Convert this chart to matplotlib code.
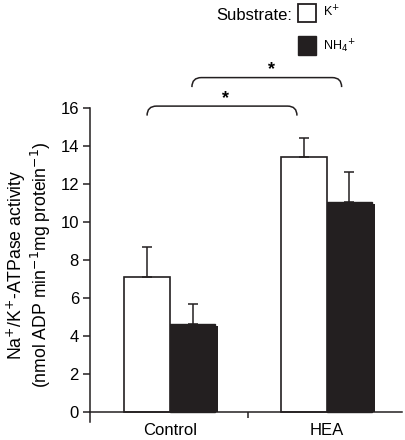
import matplotlib.pyplot as plt
from matplotlib.path import Path
from matplotlib.patches import PathPatch, Rectangle

plt.rcParams['font.family'] = ['Liberation Sans', 'DejaVu Sans']

groups = ["Control", "HEA"]
k_mean = [7.1, 13.4]
k_err = [1.6, 1.0]
nh4_mean = [4.65, 11.05]
nh4_err = [1.05, 1.6]

DARK = "#231f20"
W = 0.29


def bracket(ax, x1, x2, y_top, y_low, r=0.06):
    # rounded bracket drawn in data coords
    verts = [(x1, y_low), (x1, y_top), (x1 + r, y_top),
             (x2 - r, y_top), (x2, y_top), (x2, y_low)]
    codes = [Path.MOVETO, Path.CURVE3, Path.CURVE3, Path.LINETO, Path.CURVE3, Path.CURVE3]
    ax.add_patch(PathPatch(Path(verts, codes), fill=False, lw=1.1, color=DARK, clip_on=False))


fig = plt.figure(figsize=(4.06, 4.40), dpi=100)
ax = fig.add_axes([90 / 406, 1 - 421.5 / 440, 312 / 406, (421.5 - 108) / 440])

x = [0, 1]
xk = [i - W / 2 for i in x]
xn = [i + W / 2 for i in x]

# drop shadow on dark bars
ax.bar([i + 0.018 for i in xn], [m - 0.12 for m in nh4_mean], W, color=DARK, zorder=1)
ax.bar(xn, nh4_mean, W, color=DARK, edgecolor=DARK, lw=1.0, zorder=2)
ax.bar(xk, k_mean, W, color="white", edgecolor=DARK, lw=1.2, zorder=2)
ax.errorbar(xk, k_mean, yerr=[[0, 0], k_err], fmt="none", ecolor=DARK,
            elinewidth=1.1, capsize=3.6, capthick=1.1, zorder=3)
ax.errorbar(xn, nh4_mean, yerr=[[0, 0], nh4_err], fmt="none", ecolor=DARK,
            elinewidth=1.1, capsize=3.6, capthick=1.1, zorder=3)

ax.set_xlim(-0.51, 1.48)
ax.set_ylim(-0.5, 16)
ax.spines['top'].set_visible(False)
ax.spines['right'].set_visible(False)
ax.spines['bottom'].set_position(('data', 0))
for s in ['left', 'bottom']:
    ax.spines[s].set_linewidth(1.1)
    ax.spines[s].set_color(DARK)
ax.spines['left'].set_bounds(-0.5, 16)

ax.set_yticks(range(0, 17, 2))
ax.set_xticks(x)
ax.set_xticklabels(groups)
ax.set_xticks([0.5], minor=True)
ax.tick_params(axis='x', which='major', length=0, pad=8, labelsize=12)
ax.tick_params(axis='x', which='minor', length=4, width=1.1, direction='out', color=DARK)
ax.tick_params(axis='y', length=5, width=1.1, labelsize=12, pad=3, color=DARK)

ax.set_ylabel("Na$^{+}$/K$^{+}$-ATPase activity\n"
              "(nmol ADP min$^{-1}$mg protein$^{-1}$)",
              fontsize=12.7, linespacing=1.05, labelpad=5)

# significance brackets
bracket(ax, -0.146, 0.81, 16.1, 15.6)
ax.text(0.357, 16.5, "*", ha="center", va="center", fontsize=13, fontweight="bold")
bracket(ax, 0.14, 1.095, 17.6, 17.1)
ax.text(0.65, 18.0, "*", ha="center", va="center", fontsize=13, fontweight="bold")

# legend
fig.text(292 / 406, 1 - 15 / 440, "Substrate:", ha="right", va="center", fontsize=12)
fig.patches.append(Rectangle((298 / 406, 1 - 22 / 440), 18 / 406, 18 / 440,
                             transform=fig.transFigure, facecolor="white",
                             edgecolor=DARK, lw=1.3))
fig.patches.append(Rectangle((298 / 406, 1 - 55 / 440), 18 / 406, 19 / 440,
                             transform=fig.transFigure, facecolor=DARK,
                             edgecolor=DARK, lw=1.0))
fig.text(323 / 406, 1 - 12 / 440, "K$^{+}$", ha="left", va="center", fontsize=9)
fig.text(323 / 406, 1 - 46 / 440, "NH$_{4}$$^{+}$", ha="left", va="center", fontsize=9)

fig.savefig("out.png", dpi=100)
